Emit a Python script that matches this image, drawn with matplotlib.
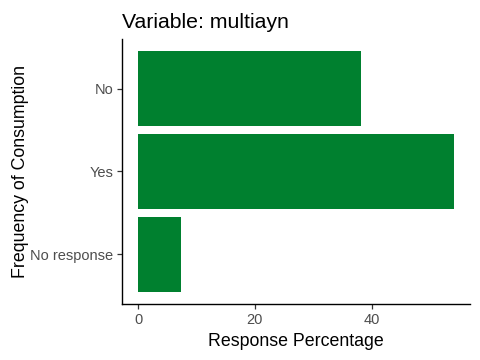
import matplotlib
matplotlib.use('Agg')
import matplotlib.pyplot as plt

plt.rcParams['font.family'] = ['Liberation Sans', 'DejaVu Sans']

categories = ['No response', 'Yes', 'No']
values = [7.3, 54.1, 38.2]
xticks = [0, 20, 40]

fig = plt.figure(figsize=(4.8, 3.6), dpi=100)
ax = fig.add_axes([0.2548, 0.1556, 0.7242, 0.7361])

ax.barh(range(len(categories)), values, height=0.9, color='#00802F')
ax.set_yticks(range(len(categories)))
ax.set_yticklabels(categories)
ax.set_xticks(xticks)
ax.set_ylim(-0.6, 2.6)
ax.set_xlim(-0.05 * max(values), 1.05 * max(values))

for s in ['top', 'right']:
    ax.spines[s].set_visible(False)
for s in ['left', 'bottom']:
    ax.spines[s].set_linewidth(1.0)
    ax.spines[s].set_color('black')
ax.tick_params(axis='both', length=3.5, width=0.9, color='#333333',
               labelcolor='#4D4D4D', labelsize=10.5, pad=3)

ax.set_xlabel('Response Percentage', fontsize=12.8, labelpad=4)
ax.set_ylabel('Frequency of Consumption', fontsize=12.8, labelpad=1)
ax.set_title('Variable: multiayn', fontsize=15.3, loc='left', pad=8)

fig.savefig('out.png', dpi=100)
